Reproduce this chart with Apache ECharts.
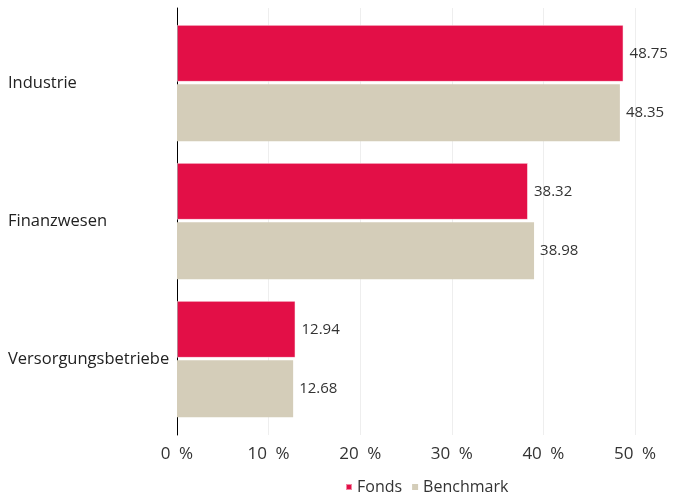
<!DOCTYPE html>
<html><head><meta charset="utf-8">
<script src="https://cdn.jsdelivr.net/npm/echarts@6/dist/echarts.min.js"></script>
<style>html,body{margin:0;padding:0;background:#fff}#c{width:673px;height:498px}</style>
</head><body><div id="c"></div>
<script>
const categories = ['Industrie', 'Finanzwesen', 'Versorgungsbetriebe'];
const fonds = [48.75, 38.32, 12.94];
const benchmark = [48.35, 38.98, 12.68];
const xTicks = [0, 10, 20, 30, 40, 50];

const font = "'Open Sans', 'Noto Sans', sans-serif";
const chart = echarts.init(document.getElementById('c'));
chart.setOption({
  animation: false,
  textStyle: { fontFamily: font },
  legend: {
    bottom: -2, left: 340,
    icon: 'rect', itemWidth: 6, itemHeight: 6, itemGap: 10,
    textStyle: { fontSize: 16, color: '#333', fontFamily: font },
    data: ['Fonds', 'Benchmark']
  },
  grid: [
    { left: 177, right: 38, top: 14, bottom: 70 },
    { left: 177, right: 38, top: 8, bottom: 63 }
  ],
  xAxis: [
    { gridIndex: 0, type: 'value', min: 0, max: 50, interval: 10,
      axisLine: { show: false }, axisTick: { show: false }, axisLabel: { show: false }, splitLine: { show: false } },
    { gridIndex: 1, type: 'value', min: xTicks[0], max: xTicks[xTicks.length - 1], interval: 10,
      axisLine: { show: false }, axisTick: { show: false },
      axisLabel: { formatter: v => v + '\u2002%', fontSize: 17, color: '#333', margin: 11, fontFamily: font },
      splitLine: { show: true, lineStyle: { color: '#eeeeee', width: 1 } } }
  ],
  yAxis: [
    { gridIndex: 0, type: 'category', data: categories, inverse: true,
      axisLine: { show: false }, axisTick: { show: false },
      axisLabel: { align: 'left', margin: 169, fontSize: 16.5, color: '#222', fontFamily: font } },
    { gridIndex: 1, type: 'category', data: [],
      axisLine: { show: true, lineStyle: { color: '#000', width: 1 } }, axisTick: { show: false }, axisLabel: { show: false } }
  ],
  series: [
    { name: 'Fonds', type: 'bar', data: fonds, xAxisIndex: 0, yAxisIndex: 0,
      barWidth: 57, barGap: '4%',
      itemStyle: { color: '#E30F47', borderColor: 'rgba(255,255,255,0.5)', borderWidth: 1 },
      label: { show: true, position: 'right', distance: 6, fontSize: 15, color: '#333', fontFamily: font, formatter: p => p.value.toFixed(2) } },
    { name: 'Benchmark', type: 'bar', data: benchmark, xAxisIndex: 0, yAxisIndex: 0,
      barWidth: 57,
      itemStyle: { color: '#D4CDB9' },
      label: { show: true, position: 'right', distance: 6, fontSize: 15, color: '#333', fontFamily: font, formatter: p => p.value.toFixed(2) } }
  ]
});
</script></body></html>
